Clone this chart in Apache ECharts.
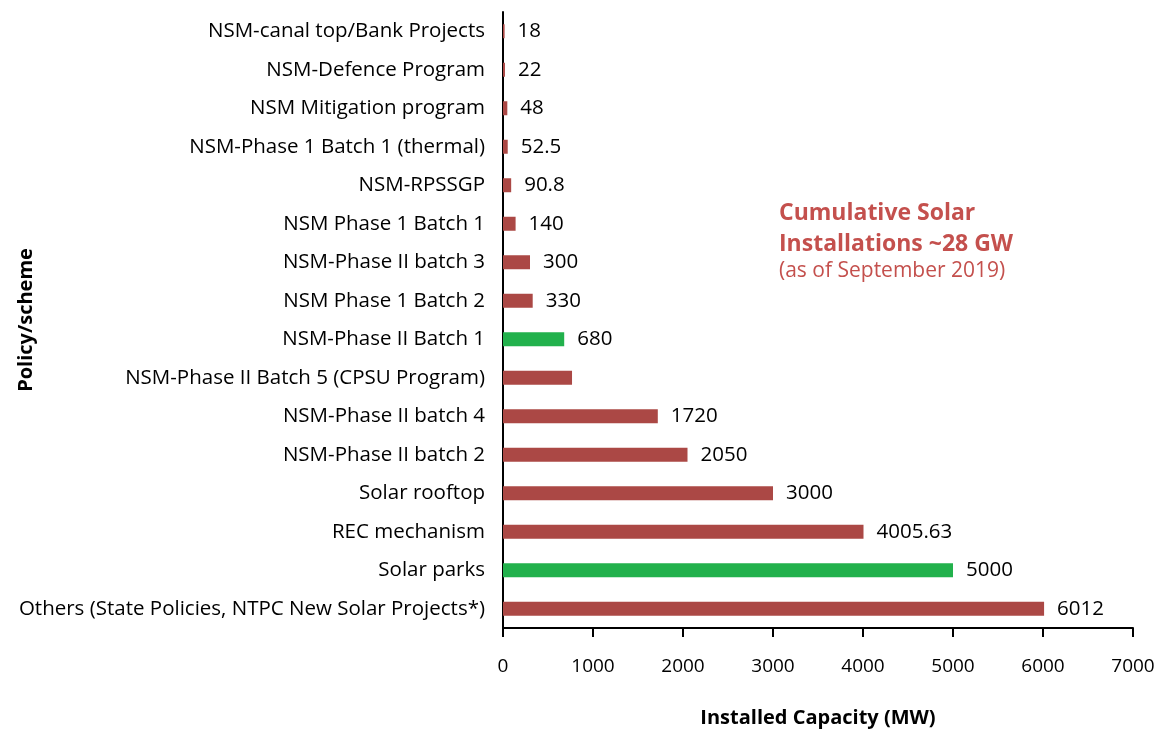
<!DOCTYPE html>
<html>
<head>
<meta charset="utf-8">
<script src="https://cdn.jsdelivr.net/npm/echarts@6/dist/echarts.min.js"></script>
<style>
  html, body { margin: 0; padding: 0; background: #fff; }
  #chart { width: 1159px; height: 730px; }
</style>
</head>
<body>
<div id="chart"></div>
<script>
// categories, bottom to top
var schemes = [
  'Others (State Policies, NTPC New Solar Projects*)',
  'Solar parks',
  'REC mechanism',
  'Solar rooftop',
  'NSM-Phase II batch 2',
  'NSM-Phase II batch 4',
  'NSM-Phase II Batch 5 (CPSU Program)',
  'NSM-Phase II Batch 1',
  'NSM Phase 1 Batch 2',
  'NSM-Phase II batch 3',
  'NSM Phase 1 Batch 1',
  'NSM-RPSSGP',
  'NSM-Phase 1 Batch 1 (thermal)',
  'NSM Mitigation program',
  'NSM-Defence Program',
  'NSM-canal top/Bank Projects'
];
var capacity = [6012, 5000, 4005.63, 3000, 2050, 1720, 767, 680, 330, 300, 140, 90.8, 52.5, 48, 22, 18];
// value labels shown on the chart (CPSU has none)
var valueLabels = ['6012', '5000', '4005.63', '3000', '2050', '1720', '', '680', '330', '300', '140', '90.8', '52.5', '48', '22', '18'];
var highlighted = ['Solar parks', 'NSM-Phase II Batch 1'];

var RED = '#ab4845';
var GREEN = '#22b14c';
var FONT = 'Open Sans';

var chart = echarts.init(document.getElementById('chart'));

var option = {
  animation: false,
  textStyle: { fontFamily: FONT },
  grid: {
    left: 503,
    right: 26,
    top: 12,
    bottom: 102,
    containLabel: false,
    outerBoundsMode: 'none'
  },
  xAxis: {
    type: 'value',
    min: 0,
    max: 7000,
    interval: 1000,
    name: 'Installed Capacity (MW)',
    nameLocation: 'middle',
    nameGap: 80,
    nameMoveOverlap: false,
    nameTextStyle: { fontFamily: FONT, fontSize: 20, fontWeight: 'bold', color: '#000' },
    axisLine: { show: true, lineStyle: { color: '#000', width: 2 } },
    axisTick: { show: true, length: 9, lineStyle: { color: '#000', width: 2 } },
    axisLabel: {
      fontFamily: FONT, fontSize: 19, color: '#000', margin: 29,
      formatter: function (v) { return String(v); }
    },
    splitLine: { show: false }
  },
  yAxis: {
    type: 'category',
    data: schemes,
    name: 'Policy/scheme',
    nameLocation: 'middle',
    nameGap: 467,
    nameRotate: 90,
    nameMoveOverlap: false,
    nameTextStyle: { fontFamily: FONT, fontSize: 20, fontWeight: 'bold', color: '#000' },
    axisLine: { show: true, lineStyle: { color: '#000', width: 2 } },
    axisTick: { show: false },
    axisLabel: { fontFamily: FONT, fontSize: 20.5, color: '#000', margin: 18 }
  },
  series: [{
    type: 'bar',
    barWidth: 14,
    data: capacity.map(function (v, i) {
      return {
        value: v,
        itemStyle: { color: highlighted.indexOf(schemes[i]) >= 0 ? GREEN : RED }
      };
    }),
    label: {
      show: true,
      position: 'right',
      distance: 13,
      fontFamily: FONT,
      fontSize: 20.5,
      color: '#000',
      formatter: function (p) { return valueLabels[p.dataIndex]; }
    }
  }],
  graphic: [{
    type: 'text',
    left: 779,
    top: 198,
    style: {
      text: 'Cumulative Solar\nInstallations ~28 GW',
      fontFamily: FONT,
      fontSize: 23,
      fontWeight: 'bold',
      fill: '#c4504d',
      lineHeight: 31
    }
  }, {
    type: 'text',
    left: 779,
    top: 261,
    style: {
      text: '(as of September 2019)',
      fontFamily: FONT,
      fontSize: 21,
      fill: '#c4504d'
    }
  }]
};

chart.setOption(option);
</script>
</body>
</html>
